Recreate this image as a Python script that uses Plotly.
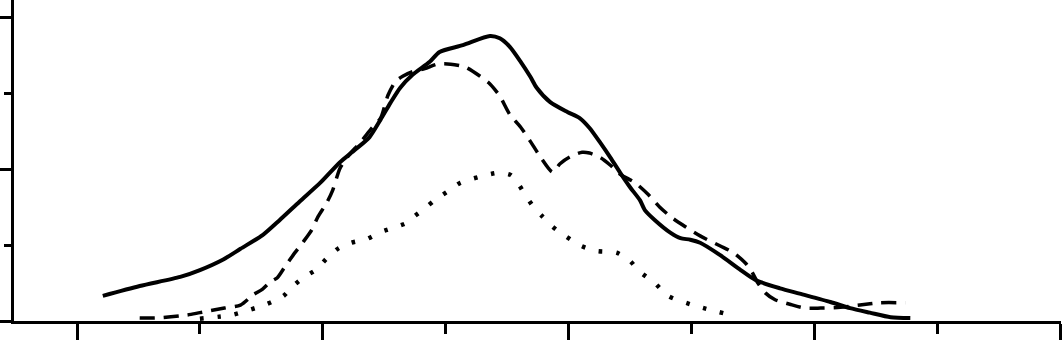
import plotly.graph_objects as go

# Solid series
solid_x = [0.21, 0.51, 0.84, 1.00, 1.19, 1.33, 1.51, 1.65, 1.81, 1.98, 2.14, 2.26, 2.38, 2.47, 2.55,
           2.63, 2.73, 2.87, 2.95, 3.14, 3.36, 3.44, 3.52, 3.61, 3.69, 3.74, 3.85, 3.99, 4.09, 4.17,
           4.26, 4.34, 4.42, 4.50, 4.58, 4.62, 4.70, 4.83, 4.91, 4.99, 5.07, 5.23, 5.40, 5.52, 5.72,
           5.88, 6.13, 6.29, 6.45, 6.62, 6.78]
solid_y = [0.33, 0.46, 0.58, 0.67, 0.81, 0.95, 1.13, 1.33, 1.57, 1.82, 2.09, 2.25, 2.42, 2.65, 2.87,
           3.07, 3.24, 3.41, 3.54, 3.63, 3.75, 3.72, 3.61, 3.41, 3.21, 3.07, 2.88, 2.75, 2.67, 2.54,
           2.34, 2.15, 1.95, 1.76, 1.59, 1.46, 1.33, 1.16, 1.09, 1.07, 1.03, 0.87, 0.67, 0.54, 0.43,
           0.36, 0.25, 0.17, 0.11, 0.05, 0.04]

# Dashed series
dash_x = [0.51, 0.65, 0.90, 1.00, 1.20, 1.33, 1.43, 1.51, 1.57, 1.63, 1.69, 1.76, 1.84, 1.91, 1.96,
          2.03, 2.08, 2.14, 2.21, 2.30, 2.40, 2.47, 2.53, 2.59, 2.65, 2.73, 2.83, 2.93, 3.04, 3.16,
          3.28, 3.36, 3.44, 3.52, 3.61, 3.69, 3.77, 3.87, 3.93, 4.01, 4.11, 4.17, 4.26, 4.34, 4.42,
          4.54, 4.65, 4.74, 4.84, 4.95, 5.07, 5.23, 5.34, 5.44, 5.49, 5.54, 5.60, 5.68, 5.80, 5.92,
          6.05, 6.21, 6.37, 6.53, 6.74]
dash_y = [0.04, 0.04, 0.08, 0.11, 0.17, 0.21, 0.34, 0.42, 0.51, 0.57, 0.71, 0.87, 1.04, 1.20, 1.37,
          1.55, 1.72, 2.01, 2.18, 2.34, 2.54, 2.67, 2.97, 3.15, 3.22, 3.28, 3.32, 3.38, 3.38, 3.34,
          3.22, 3.12, 2.96, 2.72, 2.55, 2.36, 2.16, 1.96, 2.07, 2.16, 2.22, 2.21, 2.15, 2.05, 1.93,
          1.82, 1.66, 1.50, 1.36, 1.24, 1.12, 0.99, 0.90, 0.76, 0.65, 0.50, 0.37, 0.28, 0.22, 0.17,
          0.17, 0.18, 0.21, 0.24, 0.24]

# Dotted series
dot_x = [1.00, 1.26, 1.41, 1.54, 1.68, 1.75, 1.85, 1.95, 2.03, 2.13, 2.23, 2.36, 2.47, 2.60, 2.68,
         2.73, 2.82, 2.91, 3.02, 3.12, 3.28, 3.43, 3.53, 3.60, 3.65, 3.72, 3.79, 3.87, 3.98, 4.10,
         4.23, 4.39, 4.50, 4.57, 4.70, 4.81, 4.99, 5.12, 5.34]
dot_y = [0.03, 0.08, 0.15, 0.22, 0.33, 0.45, 0.58, 0.68, 0.82, 0.96, 1.03, 1.08, 1.17, 1.24, 1.29,
         1.36, 1.47, 1.59, 1.71, 1.82, 1.90, 1.95, 1.92, 1.78, 1.65, 1.49, 1.37, 1.24, 1.11, 0.99,
         0.92, 0.90, 0.79, 0.66, 0.50, 0.33, 0.22, 0.16, 0.07]

fig = go.Figure()
fig.add_trace(go.Scatter(x=solid_x, y=solid_y, mode="lines", cliponaxis=False,
                         line=dict(color="black", width=4, shape="spline", smoothing=0.7)))
fig.add_trace(go.Scatter(x=dash_x, y=dash_y, mode="lines", cliponaxis=False,
                         line=dict(color="black", width=3.5, dash="15px,9px", shape="spline", smoothing=0.7)))
fig.add_trace(go.Scatter(x=dot_x, y=dot_y, mode="lines", cliponaxis=False,
                         line=dict(color="black", width=4.5, dash="3.5px,14px", shape="spline", smoothing=0.7)))

axis_common = dict(showline=True, linecolor="black", linewidth=3, showgrid=False, zeroline=False,
                   showticklabels=False, ticks="outside", tickcolor="black", tickwidth=3,
                   automargin=False)

fig.update_xaxes(range=[-0.5126, 8.006], tick0=0, dtick=2, ticklen=18,
                 minor=dict(ticks="outside", ticklen=10, tickwidth=3, tickcolor="black",
                            tick0=0, dtick=1, showgrid=False),
                 **axis_common)
fig.update_yaxes(range=[0, 4.224], tick0=0, dtick=2, ticklen=14,
                 minor=dict(ticks="outside", ticklen=7, tickwidth=3, tickcolor="black",
                            tick0=0, dtick=1, showgrid=False),
                 **axis_common)

fig.update_layout(width=1063, height=340, margin=dict(l=14, r=2, t=0, b=19, pad=0, autoexpand=False),
                  plot_bgcolor="white", paper_bgcolor="white", showlegend=False)

fig.write_html("out.html", config={"displayModeBar": False},
               post_script="document.body.style.margin='0';document.body.style.padding='0';"
                           "document.body.style.overflow='hidden';")
